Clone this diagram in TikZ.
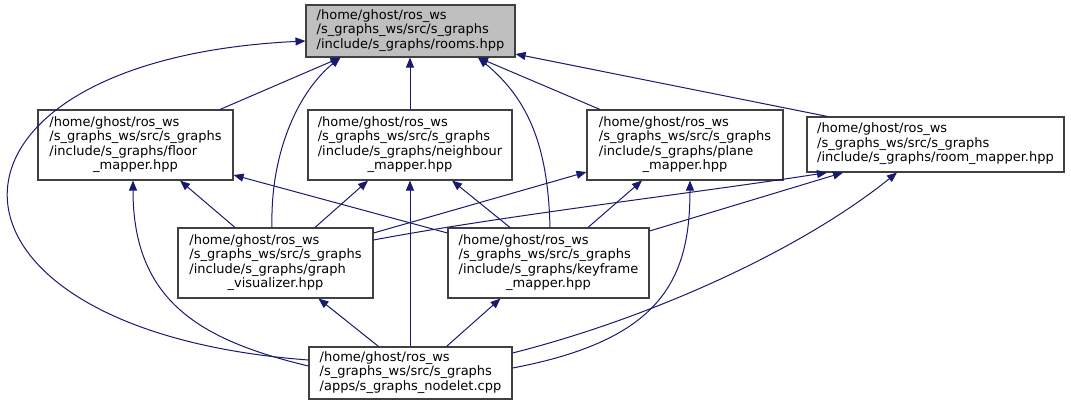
\documentclass[tikz,border=0pt]{standalone}
\usepackage{fontspec}
\setmainfont{DejaVu Sans}
\usepackage{tikz}
\usetikzlibrary{arrows.meta,calc}

\definecolor{edgeblue}{HTML}{191970}
\definecolor{boxgray}{HTML}{404040}
\definecolor{rootgray}{HTML}{BFBFBF}

\newcommand{\hdrlines}[1]{\begin{tabular}{@{}l@{}}#1\end{tabular}}
\newcommand{\lastln}[1]{\multicolumn{1}{@{}c@{}}{#1}}

\begin{document}
\begin{tikzpicture}[x=1pt,y=-1pt,
    file/.style={draw=boxgray,line width=1.1pt,fill=white,inner sep=0pt,
        font=\fontsize{13}{14.5}\selectfont},
    dep/.style={draw=edgeblue,line width=1pt,-{Triangle[length=10pt,width=8pt]}}]
\useasboundingbox (0,0) rectangle (1071,408);

\node[file,fill=rootgray,minimum width=209pt,minimum height=52pt] (rooms) at (410.5,31)
    {\hdrlines{/home/ghost/ros\_ws\\/s\_graphs\_ws/src/s\_graphs\\/include/s\_graphs/rooms.hpp}};
\node[file,minimum width=195pt,minimum height=70pt] (floor) at (135.5,145)
    {\hdrlines{/home/ghost/ros\_ws\\/s\_graphs\_ws/src/s\_graphs\\/include/s\_graphs/floor\\\lastln{\_mapper.hpp}}};
\node[file,minimum width=204pt,minimum height=70pt] (neigh) at (410,145)
    {\hdrlines{/home/ghost/ros\_ws\\/s\_graphs\_ws/src/s\_graphs\\/include/s\_graphs/neighbour\\\lastln{\_mapper.hpp}}};
\node[file,minimum width=196pt,minimum height=70pt] (plane) at (685,145)
    {\hdrlines{/home/ghost/ros\_ws\\/s\_graphs\_ws/src/s\_graphs\\/include/s\_graphs/plane\\\lastln{\_mapper.hpp}}};
\node[file,minimum width=257pt,minimum height=55pt] (roommap) at (935.5,144.5)
    {\hdrlines{/home/ghost/ros\_ws\\/s\_graphs\_ws/src/s\_graphs\\/include/s\_graphs/room\_mapper.hpp}};
\node[file,minimum width=195pt,minimum height=70pt] (graphvis) at (275.5,263)
    {\hdrlines{/home/ghost/ros\_ws\\/s\_graphs\_ws/src/s\_graphs\\/include/s\_graphs/graph\\\lastln{\_visualizer.hpp}}};
\node[file,minimum width=201pt,minimum height=70pt] (keyframe) at (548.5,263)
    {\hdrlines{/home/ghost/ros\_ws\\/s\_graphs\_ws/src/s\_graphs\\/include/s\_graphs/keyframe\\\lastln{\_mapper.hpp}}};
\node[file,minimum width=203pt,minimum height=52pt] (nodelet) at (410.5,373)
    {\hdrlines{/home/ghost/ros\_ws\\/s\_graphs\_ws/src/s\_graphs\\/apps/s\_graphs\_nodelet.cpp}};

\draw[dep] ($(floor.north)+(84.5,0)$) -- ($(rooms.south)+(-70,0)$);
\draw[dep] (neigh.north) -- (neigh.north |- rooms.south);
\draw[dep] ($(plane.north)+(-85,0)$) -- ($(rooms.south)+(67.5,0)$);
\draw[dep] ($(roommap.north)+(-108,0)$) -- ($(rooms.east)+(0,23)$);
\draw[dep] ($(graphvis.north)+(-3.5,0)$) .. controls +(-2,-78) and +(-40,32) .. ($(rooms.south)+(-70,0)$);
\draw[dep] ($(keyframe.north)+(1.5,0)$) .. controls +(-2,-79) and +(52,43) .. ($(rooms.south)+(67.5,0)$);
\draw[dep] ($(nodelet.west)+(0,-13)$) .. controls +(-400,-30) and +(-396,19) .. ($(rooms.west)+(0,10)$);

\draw[dep] ($(graphvis.north)+(-40.5,0)$) -- ($(floor.south)+(44.5,0)$);
\draw[dep] ($(nodelet.west)+(0,-7)$) .. controls +(-109,-26) and +(0,120) .. ($(floor.south)+(-2.5,0)$);
\draw[dep] ($(keyframe.west)+(0,-30)$) -- ($(floor.east)+(0,30)$);

\draw[dep] ($(graphvis.north)+(39.5,0)$) -- ($(neigh.south)+(-42,0)$);
\draw[dep] ($(keyframe.north)+(-38.5,0)$) -- ($(neigh.south)+(42,0)$);
\draw[dep] (nodelet.north -| neigh.south) -- (neigh.south);

\draw[dep] ($(graphvis.east)+(0,-30)$) -- ($(plane.west)+(0,27)$);
\draw[dep] ($(keyframe.north)+(39.5,0)$) -- ($(plane.south)+(-43,0)$);
\draw[dep] ($(nodelet.east)+(0,-5)$) .. controls +(148,-28) and +(0,100) .. ($(plane.south)+(5,0)$);

\draw[dep] ($(graphvis.east)+(0,-23)$) .. controls +(127,-24) and +(-128,20) .. ($(roommap.south)+(-108.5,0)$);
\draw[dep] ($(keyframe.east)+(0,-32)$) -- ($(roommap.south)+(-92.5,0)$);
\draw[dep] ($(nodelet.east)+(0,-20)$) .. controls +(138,-35) and +(-97,78) .. ($(roommap.south)+(-38.5,0)$);

\draw[dep] ($(nodelet.north)+(-32,0)$) -- ($(graphvis.south)+(43,0)$);
\draw[dep] ($(nodelet.north)+(36,0)$) -- ($(keyframe.south)+(-48,0)$);
\end{tikzpicture}
\end{document}
